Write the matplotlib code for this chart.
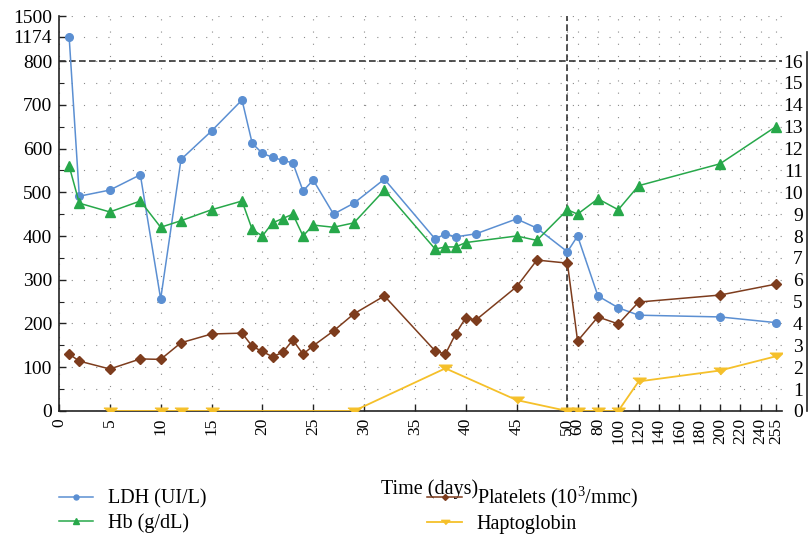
import numpy as np
import matplotlib
matplotlib.use("Agg")
import matplotlib.pyplot as plt

plt.rcParams["font.family"] = ["Liberation Serif", "DejaVu Serif"]
plt.rcParams["mathtext.fontset"] = "custom"
plt.rcParams["mathtext.rm"] = "Liberation Serif"

# data
ldh_days = [1, 2, 5, 8, 10, 12, 15, 18, 19, 20, 21, 22, 23, 24, 25, 27, 29, 32, 37, 38,
            39, 41, 45, 47, 50, 60, 80, 100, 120, 200, 255]
ldh = [1174, 491, 505, 540, 256, 575, 640, 711, 612, 589, 580, 573, 567, 503, 528, 450,
       475, 530, 393, 405, 398, 405, 439, 418, 364, 400, 263, 236, 219, 215, 202]

hb_days = [1, 2, 5, 8, 10, 12, 15, 18, 19, 20, 21, 22, 23, 24, 25, 27, 29, 32, 37, 38,
           39, 40, 45, 47, 50, 60, 80, 100, 120, 200, 255]
hb = [11.2, 9.5, 9.1, 9.6, 8.4, 8.7, 9.2, 9.6, 8.3, 8.0, 8.6, 8.8, 9.0, 8.0, 8.5, 8.4,
      8.6, 10.1, 7.4, 7.5, 7.5, 7.7, 8.0, 7.8, 9.2, 9.0, 9.7, 9.2, 10.3, 11.3, 13.0]

plt_days = [1, 2, 5, 8, 10, 12, 15, 18, 19, 20, 21, 22, 23, 24, 25, 27, 29, 32, 37, 38,
            39, 40, 41, 45, 47, 50, 60, 80, 100, 120, 200, 255]
platelets = [130, 114, 96, 119, 118, 156, 176, 178, 148, 136, 124, 134, 162, 130, 149,
             183, 222, 263, 137, 130, 176, 213, 208, 284, 345, 338, 160, 215, 199, 249,
             265, 290]

hapto_days = [5, 10, 12, 15, 29, 38, 45, 50, 60, 80, 100, 120, 200, 255]
hapto = [0, 0, 0, 0, 0, 1.95, 0.5, 0, 0, 0, 0, 1.35, 1.85, 2.5]

xticks = [0, 5, 10, 15, 20, 25, 30, 35, 40, 45, 50, 60, 80, 100, 120, 140, 160, 180,
          200, 220, 240, 255]
yticks = [0, 100, 200, 300, 400, 500, 600, 700, 800, 1174, 1500]
yticks_right = list(range(0, 17))


# broken axes: days after 50 squeezed, values above 800 squeezed
def fx(x):
    x = np.asarray(x, float)
    return np.where(x <= 50, x, 50 + (x - 50) * 0.1)


def fx_inv(u):
    u = np.asarray(u, float)
    return np.where(u <= 50, u, 50 + (u - 50) * 10)


def fy(y):
    y = np.asarray(y, float)
    return np.where(y <= 800, y, 800 + (y - 800) * 0.147)


def fy_inv(u):
    u = np.asarray(u, float)
    return np.where(u <= 800, u, 800 + (u - 800) / 0.147)


BLUE, GREEN, BROWN, YELLOW = "#5b8fd2", "#27a84a", "#7d3c1d", "#f5c02a"
wide_v = [(-1, 0.5), (1, 0.5), (0, -0.5)]

fig = plt.figure(figsize=(8.09, 5.39), dpi=100)
ax = fig.add_axes([0.0729, 0.2375, 0.8937, 0.7328])
ax.set_xscale("function", functions=(fx, fx_inv))
ax.set_yscale("function", functions=(fy, fy_inv))
ax.set_xlim(0, 261)
ax.set_ylim(0, 1500)

ax2 = ax.twinx()
ax2.set_ylim(0, float(fy(1500)) / 50)

l1, = ax.plot(ldh_days, ldh, color=BLUE, lw=1.1, marker="o", ms=5.5, zorder=3)
l3, = ax.plot(plt_days, platelets, color=BROWN, lw=1.1, marker="D", ms=4.6, zorder=3)
l2, = ax2.plot(hb_days, hb, color=GREEN, lw=1.1, marker="^", ms=7, zorder=3)
l4, = ax2.plot(hapto_days, hapto, color=YELLOW, lw=1.3, marker=wide_v, ms=9.5, zorder=3)

ax.axhline(800, color="#333333", lw=1.2, ls=(0, (4, 2)), zorder=2)
ax.axvline(50, color="#333333", lw=1.2, ls=(0, (4, 2)), zorder=2)

ax.set_xticks(xticks)
ax.set_xticklabels([str(t) for t in xticks], rotation=90, fontsize=12.5)
ax.set_yticks(yticks)
ax.set_yticklabels([str(t) for t in yticks], fontsize=14)
ax.set_yticks([v for v in range(50, 800, 100)], minor=True)
ax.tick_params(axis="both", which="major", direction="in", length=5, width=1, pad=5,
               color="#222222")
ax.tick_params(axis="y", which="minor", direction="in", length=3.5, width=0.8,
               color="#222222")
ax.grid(True, which="both", axis="y", color="#8a8a8a", lw=0.8, ls=(0, (1, 10)))
ax.grid(True, which="major", axis="x", color="#8a8a8a", lw=0.8, ls=(0, (1, 10)))

for s in ["top", "right"]:
    ax.spines[s].set_visible(False)
for s in ["left", "bottom"]:
    ax.spines[s].set_color("#222222")
    ax.spines[s].set_linewidth(1.2)

# right axis sits a little outside the plot, labels on its inner side
ax2.spines["top"].set_visible(False)
ax2.spines["left"].set_visible(False)
ax2.spines["bottom"].set_visible(False)
ax2.spines["right"].set_position(("outward", 18))
ax2.spines["right"].set_bounds(0, 16.4)
ax2.spines["right"].set_color("#222222")
ax2.spines["right"].set_linewidth(1.2)
ax2.set_yticks(yticks_right)
ax2.set_yticklabels([str(t) for t in yticks_right], fontsize=14)
ax2.tick_params(axis="y", length=0, pad=-3)
plt.setp(ax2.get_yticklabels(), ha="right")

ax.set_xlabel("Time (days)", fontsize=14.5)
ax.xaxis.set_label_coords(0.512, -0.172)

fig.legend([l1, l2, l3, l4],
           ["LDH (UI/L)", "Hb (g/dL)", r"Platelets ($\mathregular{10^3}$/mmc)", "Haptoglobin"],
           loc="upper left", bbox_to_anchor=(0.073, 0.100), ncol=2, frameon=False,
           fontsize=14.5, handlelength=1.7, handletextpad=0.75, columnspacing=10.95,
           labelspacing=0.25, borderpad=0, borderaxespad=0, markerscale=0.65)

fig.savefig("out.png", dpi=100)
